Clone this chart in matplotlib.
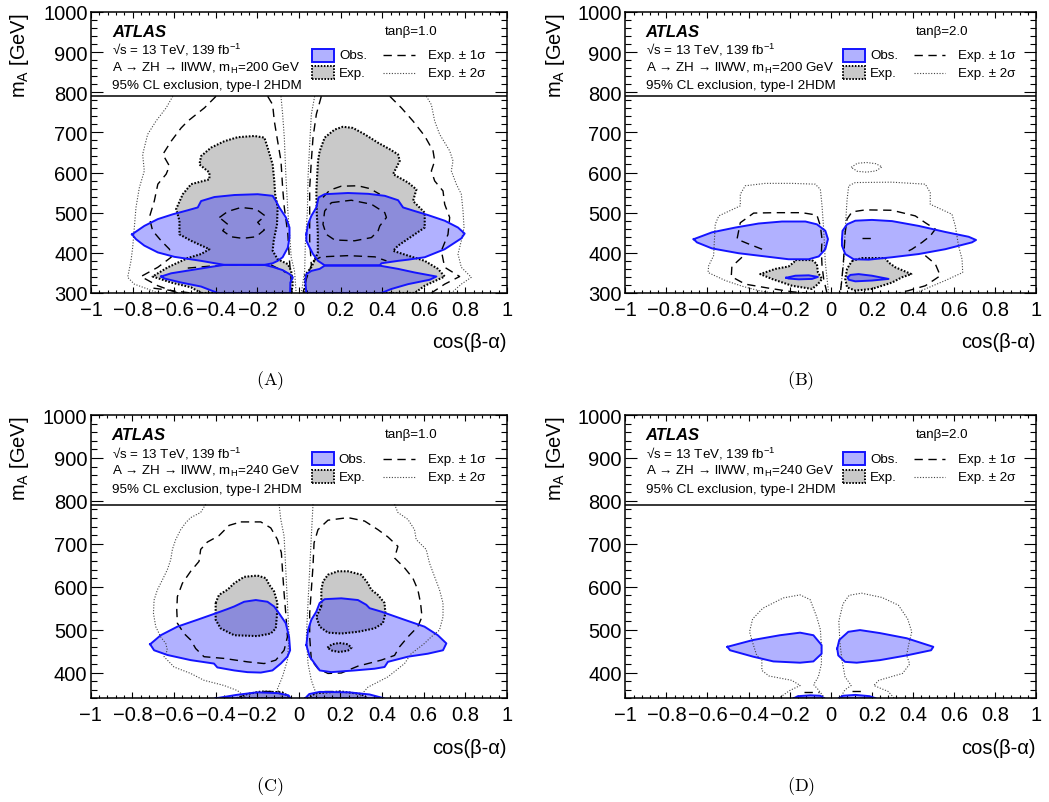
import matplotlib
matplotlib.use("Agg")
import matplotlib.pyplot as plt
from matplotlib.patches import Rectangle
from matplotlib.ticker import MultipleLocator, FuncFormatter

plt.rcParams["font.family"] = ["Liberation Sans", "DejaVu Sans"]
plt.rcParams["mathtext.fontset"] = "custom"
plt.rcParams["mathtext.rm"] = "Liberation Sans"
plt.rcParams["mathtext.it"] = "Liberation Sans:italic"
plt.rcParams["mathtext.bf"] = "Liberation Sans:bold"

# ---------------------------------------------------------------- contours
# every contour is a list of (cos(beta-alpha), m_A [GeV]) points

# (a) m_H = 200 GeV, tanb = 1
A_OBS_L_UP = [(-0.803, 446), (-0.744, 467), (-0.679, 484), (-0.607, 496), (-0.535, 506),
              (-0.487, 513), (-0.471, 529), (-0.407, 539), (-0.311, 544), (-0.199, 546),
              (-0.127, 542), (-0.111, 529), (-0.095, 513), (-0.063, 488), (-0.046, 463),
              (-0.046, 438), (-0.054, 413), (-0.079, 389), (-0.103, 380), (-0.127, 374),
              (-0.167, 370), (-0.359, 370), (-0.471, 380), (-0.599, 390), (-0.679, 401),
              (-0.744, 418), (-0.784, 434)]
A_OBS_L_LOW = [(-0.663, 341), (-0.615, 349), (-0.519, 357), (-0.423, 365), (-0.359, 370),
               (-0.167, 370), (-0.127, 365), (-0.079, 357), (-0.046, 347), (-0.030, 339),
               (-0.042, 326), (-0.043, 300), (-0.391, 300), (-0.471, 316), (-0.567, 326),
               (-0.647, 336)]
A_OBS_R_UP = [(0.035, 446), (0.043, 471), (0.059, 492), (0.083, 513), (0.094, 538),
              (0.123, 546), (0.235, 549), (0.332, 547), (0.412, 542), (0.476, 531),
              (0.500, 513), (0.556, 504), (0.620, 494), (0.700, 480), (0.764, 463),
              (0.796, 448), (0.780, 436), (0.700, 409), (0.604, 389), (0.524, 383),
              (0.476, 380), (0.396, 374), (0.388, 369), (0.123, 369), (0.091, 380),
              (0.067, 397), (0.051, 413), (0.035, 430)]
A_OBS_R_LOW = [(0.035, 300), (0.030, 331), (0.035, 347), (0.059, 355), (0.099, 360),
               (0.123, 368), (0.388, 368), (0.476, 360), (0.556, 351), (0.660, 341),
               (0.628, 333), (0.524, 322), (0.444, 310), (0.396, 300)]
A_EXP_L = [(-0.471, 300), (-0.519, 314), (-0.615, 326), (-0.704, 341), (-0.631, 364),
           (-0.535, 387), (-0.471, 397), (-0.431, 409), (-0.519, 430), (-0.575, 446),
           (-0.575, 480), (-0.591, 509), (-0.559, 546), (-0.519, 571), (-0.431, 583),
           (-0.431, 600), (-0.479, 620), (-0.471, 641), (-0.423, 662), (-0.359, 678),
           (-0.295, 688), (-0.215, 691), (-0.167, 687), (-0.151, 662), (-0.127, 620),
           (-0.119, 579), (-0.115, 546), (-0.103, 513), (-0.106, 471), (-0.122, 430),
           (-0.127, 405), (-0.103, 384), (-0.054, 372), (-0.038, 355), (-0.030, 322),
           (-0.038, 300)]
A_EXP_R = [(0.027, 300), (0.030, 345), (0.060, 365), (0.090, 400), (0.090, 450),
           (0.085, 500), (0.083, 554), (0.091, 629), (0.099, 653), (0.123, 687),
           (0.171, 707), (0.211, 714), (0.259, 711), (0.316, 695), (0.380, 674),
           (0.436, 658), (0.476, 645), (0.484, 629), (0.452, 596), (0.524, 575),
           (0.564, 558), (0.548, 529), (0.604, 500), (0.604, 463), (0.476, 418),
           (0.452, 405), (0.524, 393), (0.604, 380), (0.668, 360), (0.700, 341),
           (0.604, 318), (0.556, 300)]
A_DASH_L_OUT = [(-0.399, 790), (-0.455, 761), (-0.535, 728), (-0.567, 711), (-0.615, 678),
                (-0.655, 645), (-0.623, 616), (-0.639, 596), (-0.679, 571), (-0.696, 529),
                (-0.720, 488), (-0.704, 455), (-0.663, 430), (-0.623, 409), (-0.615, 389),
                (-0.679, 364), (-0.760, 341), (-0.679, 318), (-0.583, 300)]
A_DASH_L_IN = [(-0.151, 790), (-0.127, 769), (-0.119, 728), (-0.103, 678), (-0.087, 629),
               (-0.079, 562), (-0.071, 513), (-0.054, 447), (-0.046, 380), (-0.038, 331),
               (-0.034, 300)]
A_DASH_L_ISL = [(-0.383, 488), (-0.343, 503), (-0.279, 513), (-0.207, 509), (-0.163, 492),
                (-0.199, 476), (-0.167, 457), (-0.207, 440), (-0.271, 436), (-0.327, 440),
                (-0.367, 455), (-0.343, 471), (-0.383, 488)]
A_DASH_L_LOW = [(-0.535, 362), (-0.359, 370), (-0.135, 370), (-0.063, 351)]
A_DASH_L_BOT = [(-0.700, 312), (-0.600, 305), (-0.520, 300)]
A_DASH_R_OUT = [(0.436, 790), (0.492, 761), (0.548, 728), (0.604, 691), (0.644, 654),
                (0.652, 629), (0.636, 604), (0.652, 579), (0.692, 554), (0.700, 521),
                (0.724, 488), (0.716, 446), (0.684, 405), (0.700, 364), (0.772, 341),
                (0.700, 322), (0.636, 300)]
A_DASH_R_IN = [(0.107, 790), (0.083, 745), (0.067, 687), (0.059, 629), (0.051, 562),
               (0.051, 500), (0.051, 430), (0.059, 369), (0.035, 335), (0.019, 300)]
A_DASH_R_TOP = [(0.115, 538), (0.147, 556), (0.203, 566), (0.283, 567), (0.340, 560),
                (0.388, 546)]
A_DASH_R_ISL = [(0.155, 525), (0.251, 531), (0.348, 521), (0.412, 500), (0.420, 488),
                (0.388, 467), (0.380, 455), (0.348, 438), (0.267, 430), (0.171, 432),
                (0.131, 446), (0.115, 471), (0.123, 504), (0.155, 525)]
A_DASH_R_LOW = [(0.067, 380), (0.107, 390), (0.235, 393), (0.364, 390), (0.420, 380)]
A_DOT_L_OUT = [(-0.607, 790), (-0.639, 761), (-0.688, 728), (-0.728, 695), (-0.752, 645),
               (-0.744, 604), (-0.768, 562), (-0.784, 513), (-0.792, 463), (-0.800, 413),
               (-0.808, 380), (-0.824, 339), (-0.792, 322), (-0.728, 310), (-0.679, 300)]
A_DOT_L_IN = [(-0.087, 790), (-0.079, 745), (-0.071, 687), (-0.063, 587), (-0.054, 505),
              (-0.042, 422), (-0.038, 389), (-0.022, 355), (-0.014, 300)]
A_DOT_R_OUT = [(0.612, 790), (0.636, 769), (0.652, 728), (0.676, 695), (0.724, 654),
               (0.740, 629), (0.732, 604), (0.756, 571), (0.780, 546), (0.788, 505),
               (0.793, 463), (0.780, 430), (0.764, 397), (0.780, 364), (0.828, 339),
               (0.780, 322), (0.732, 300)]
A_DOT_R_IN = [(0.075, 790), (0.059, 745), (0.051, 670), (0.043, 587), (0.040, 504),
              (0.030, 422), (0.027, 355), (0.011, 300)]

# (b) m_H = 200 GeV, tanb = 2
B_OBS_L = [(-0.667, 434), (-0.578, 451), (-0.464, 463), (-0.351, 473), (-0.237, 478),
           (-0.123, 478), (-0.067, 471), (-0.026, 455), (-0.013, 434), (-0.026, 409),
           (-0.058, 391), (-0.107, 384), (-0.205, 384), (-0.318, 391), (-0.448, 399),
           (-0.578, 411), (-0.651, 426)]
B_OBS_R = [(0.055, 434), (0.058, 455), (0.080, 471), (0.120, 480), (0.201, 482),
           (0.299, 479), (0.429, 467), (0.558, 452), (0.672, 440), (0.708, 432),
           (0.688, 426), (0.558, 409), (0.429, 397), (0.299, 389), (0.185, 383),
           (0.112, 384), (0.071, 397), (0.055, 418)]
B_OBS_L_SMALL = [(-0.216, 338), (-0.172, 343), (-0.107, 344), (-0.062, 340), (-0.091, 335),
                 (-0.156, 334), (-0.205, 336)]
B_OBS_R_SMALL = [(0.084, 339), (0.096, 345), (0.136, 347), (0.201, 343), (0.282, 335),
                 (0.201, 331), (0.120, 329), (0.088, 333)]
B_EXP_L = [(-0.172, 382), (-0.091, 382), (-0.067, 372), (-0.062, 351), (-0.042, 335),
           (-0.062, 322), (-0.091, 310), (-0.188, 318), (-0.286, 335), (-0.343, 347),
           (-0.269, 360), (-0.205, 366), (-0.180, 376)]
B_EXP_R = [(0.104, 380), (0.153, 387), (0.266, 387), (0.282, 376), (0.315, 364),
           (0.393, 347), (0.347, 339), (0.299, 326), (0.201, 310), (0.120, 306),
           (0.080, 314), (0.071, 335), (0.080, 360)]
B_DASH_L1 = [(-0.334, 409), (-0.399, 422), (-0.456, 434), (-0.440, 475), (-0.375, 499),
             (-0.269, 500), (-0.140, 500), (-0.067, 494), (-0.050, 467), (-0.042, 434),
             (-0.045, 401), (-0.042, 368), (-0.034, 335), (-0.018, 300)]
B_DASH_L2 = [(-0.432, 389), (-0.481, 366), (-0.484, 341), (-0.416, 322), (-0.302, 312),
             (-0.188, 303), (-0.123, 300)]
B_DASH_R1 = [(0.380, 405), (0.396, 409), (0.445, 426), (0.485, 442), (0.510, 459),
             (0.461, 475), (0.412, 492), (0.299, 506), (0.169, 507), (0.104, 502),
             (0.080, 484), (0.071, 451), (0.063, 384), (0.055, 335), (0.047, 300)]
B_DASH_R2 = [(0.461, 393), (0.510, 372), (0.534, 343), (0.461, 318), (0.380, 306),
             (0.331, 300)]
B_DASH_R_MARK = [(0.155, 438), (0.200, 438)]
B_DOT_L = [(-0.010, 300), (-0.026, 376), (-0.034, 459), (-0.042, 517), (-0.050, 558),
           (-0.075, 571), (-0.188, 573), (-0.318, 573), (-0.416, 567), (-0.440, 546),
           (-0.440, 517), (-0.545, 492), (-0.562, 471), (-0.570, 393), (-0.594, 368),
           (-0.597, 351), (-0.513, 331), (-0.432, 317), (-0.351, 306), (-0.286, 300)]
B_DOT_R = [(0.047, 300), (0.063, 376), (0.071, 459), (0.080, 533), (0.088, 567),
           (0.120, 575), (0.299, 576), (0.461, 571), (0.485, 550), (0.485, 521),
           (0.591, 496), (0.607, 467), (0.623, 417), (0.640, 384), (0.643, 351),
           (0.558, 331), (0.461, 310), (0.412, 300)]
B_DOT_R_ISL = [(0.100, 613), (0.130, 623), (0.175, 625), (0.220, 622), (0.250, 614),
               (0.220, 604), (0.175, 601), (0.130, 603), (0.100, 613)]

# (c) m_H = 240 GeV, tanb = 1
C_OBS_L = [(-0.715, 466), (-0.664, 487), (-0.584, 507), (-0.488, 523), (-0.400, 538),
           (-0.343, 548), (-0.311, 554), (-0.263, 565), (-0.207, 569), (-0.151, 565),
           (-0.119, 554), (-0.095, 538), (-0.063, 515), (-0.047, 483), (-0.042, 452),
           (-0.055, 437), (-0.087, 421), (-0.127, 405), (-0.183, 400), (-0.247, 401),
           (-0.311, 405), (-0.392, 412), (-0.408, 421), (-0.520, 429), (-0.632, 441),
           (-0.696, 452)]
C_OBS_R = [(0.036, 464), (0.044, 499), (0.060, 523), (0.084, 542), (0.100, 562),
           (0.124, 571), (0.204, 573), (0.284, 569), (0.324, 558), (0.340, 550),
           (0.396, 542), (0.508, 523), (0.604, 507), (0.668, 487), (0.709, 468),
           (0.693, 452), (0.620, 444), (0.524, 437), (0.428, 425), (0.412, 413),
           (0.364, 409), (0.268, 405), (0.156, 401), (0.100, 405), (0.076, 421),
           (0.052, 437)]
C_OBS_L_BOT = [(-0.400, 340), (-0.300, 348), (-0.200, 354), (-0.100, 352), (-0.050, 347),
               (-0.040, 340)]
C_OBS_R_BOT = [(0.030, 340), (0.050, 350), (0.100, 355), (0.240, 354), (0.340, 349),
               (0.410, 340)]
C_EXP_L = [(-0.400, 562), (-0.384, 581), (-0.343, 593), (-0.311, 608), (-0.263, 623),
           (-0.199, 626), (-0.159, 620), (-0.143, 605), (-0.119, 589), (-0.103, 562),
           (-0.106, 530), (-0.111, 503), (-0.135, 491), (-0.199, 485), (-0.311, 487),
           (-0.376, 503), (-0.400, 523)]
C_EXP_R = [(0.108, 554), (0.108, 593), (0.116, 612), (0.140, 628), (0.188, 636),
           (0.236, 636), (0.300, 628), (0.332, 608), (0.348, 593), (0.380, 581),
           (0.412, 562), (0.416, 538), (0.404, 515), (0.364, 503), (0.284, 495),
           (0.204, 491), (0.140, 493), (0.100, 507), (0.084, 530)]
C_EXP_R_ISL = [(0.137, 458), (0.160, 466), (0.195, 469), (0.235, 466), (0.253, 458),
               (0.235, 451), (0.195, 448), (0.160, 451)]
C_EXP_L_BOT = [(-0.300, 340), (-0.250, 350), (-0.180, 356), (-0.080, 354), (-0.050, 345),
               (-0.045, 340)]
C_EXP_R_BOT = [(0.040, 340), (0.080, 352), (0.200, 356), (0.300, 350), (0.330, 340)]
C_DASH_L = [(-0.279, 751), (-0.183, 751), (-0.135, 737), (-0.103, 710), (-0.084, 679),
            (-0.079, 640), (-0.071, 585), (-0.063, 538), (-0.055, 483), (-0.071, 452),
            (-0.111, 429), (-0.167, 421), (-0.247, 425), (-0.360, 433), (-0.456, 437),
            (-0.496, 456), (-0.520, 476), (-0.552, 491), (-0.584, 515), (-0.587, 546),
            (-0.584, 577), (-0.560, 608), (-0.520, 636), (-0.480, 659), (-0.472, 687),
            (-0.440, 704), (-0.384, 719), (-0.335, 743), (-0.279, 751)]
C_DASH_R = [(0.060, 429), (0.052, 483), (0.052, 538), (0.060, 593), (0.068, 648),
            (0.073, 702), (0.092, 733), (0.140, 755), (0.236, 761), (0.316, 753),
            (0.380, 733), (0.428, 716), (0.476, 694), (0.460, 667), (0.508, 644),
            (0.548, 620), (0.572, 593), (0.585, 562), (0.592, 530), (0.572, 507),
            (0.524, 483), (0.484, 460), (0.460, 440), (0.396, 429), (0.284, 415),
            (0.204, 399), (0.140, 398), (0.092, 409), (0.060, 429)]
C_DASH_L_BOT = [(-0.170, 356), (-0.100, 356)]
C_DASH_R_BOT = [(0.120, 357), (0.200, 357)]
C_DOT_L_OUT = [(-0.448, 792), (-0.472, 773), (-0.520, 761), (-0.544, 749), (-0.568, 733),
               (-0.592, 710), (-0.608, 687), (-0.616, 663), (-0.632, 640), (-0.656, 616),
               (-0.680, 593), (-0.696, 569), (-0.699, 538), (-0.688, 507), (-0.664, 483),
               (-0.640, 468), (-0.632, 452), (-0.648, 437), (-0.600, 413), (-0.520, 398),
               (-0.456, 382), (-0.360, 370), (-0.295, 358), (-0.247, 339)]
C_DOT_L_IN = [(-0.095, 792), (-0.087, 757), (-0.071, 718), (-0.063, 640), (-0.055, 562),
              (-0.047, 483), (-0.055, 429), (-0.079, 390), (-0.103, 362), (-0.079, 339)]
C_DOT_R_OUT = [(0.460, 792), (0.476, 773), (0.524, 757), (0.556, 733), (0.564, 710),
               (0.612, 687), (0.628, 655), (0.652, 624), (0.676, 593), (0.693, 562),
               (0.693, 530), (0.676, 499), (0.636, 483), (0.604, 468), (0.540, 444),
               (0.508, 421), (0.428, 390), (0.332, 366), (0.284, 339)]
C_DOT_R_IN = [(0.068, 792), (0.060, 718), (0.052, 640), (0.044, 562), (0.036, 483),
              (0.044, 421), (0.060, 382), (0.092, 339)]

# (d) m_H = 240 GeV, tanb = 2
D_OBS_L = [(-0.503, 460), (-0.377, 476), (-0.247, 487), (-0.149, 493), (-0.084, 487),
           (-0.044, 464), (-0.044, 444), (-0.084, 426), (-0.149, 423), (-0.279, 426),
           (-0.377, 437), (-0.490, 452)]
D_OBS_R = [(0.032, 456), (0.042, 476), (0.086, 495), (0.143, 499), (0.240, 492),
           (0.370, 480), (0.500, 460), (0.489, 452), (0.370, 440), (0.240, 429),
           (0.127, 423), (0.070, 425), (0.037, 440)]
D_OBS_L_BOT = [(-0.180, 340), (-0.160, 345), (-0.100, 347), (-0.050, 346), (-0.030, 340)]
D_OBS_R_BOT = [(0.040, 340), (0.060, 346), (0.120, 348), (0.190, 345), (0.220, 340)]
D_DASH_L_BOT = [(-0.131, 355), (-0.058, 355)]
D_DASH_R_BOT = [(0.104, 357), (0.169, 357)]
D_DOT_L = [(-0.028, 340), (-0.060, 360), (-0.083, 372), (-0.060, 390), (-0.045, 420),
           (-0.045, 460), (-0.050, 500), (-0.068, 530), (-0.100, 570), (-0.149, 581),
           (-0.230, 574), (-0.330, 550), (-0.380, 525), (-0.395, 495), (-0.380, 470),
           (-0.360, 440), (-0.335, 430), (-0.335, 405), (-0.300, 392), (-0.190, 382),
           (-0.148, 370), (-0.200, 358), (-0.253, 340)]
D_DOT_R = [(0.045, 340), (0.070, 360), (0.100, 370), (0.070, 390), (0.055, 430),
           (0.045, 470), (0.040, 520), (0.060, 560), (0.090, 580), (0.150, 585),
           (0.250, 575), (0.330, 557), (0.375, 525), (0.395, 495), (0.380, 465),
           (0.370, 440), (0.385, 420), (0.350, 398), (0.235, 382), (0.210, 370),
           (0.280, 356), (0.310, 340)]

# ---------------------------------------------------------------- styles
OBS_FILL = (0.07, 0.07, 1.0, 0.33)
OBS_LINE = "#1414ff"
EXP_FILL = "#c9c9c9"
DASHED = (0, (6, 4))
DOTTED = (0, (1, 1.5))
EXP_EDGE = (0, (0.8, 0.8))


def xy(pts):
    return [p[0] for p in pts], [p[1] for p in pts]


def tick_fmt(v, _):
    v = round(v, 2)
    if v == 0:
        return "0"
    return f"{v:g}".replace("-", "\u2212")


def draw_header(ax, mh, tanb):
    t = ax.transAxes
    small = 9.6
    ax.text(0.05, 0.932, "ATLAS", transform=t, fontsize=12, fontweight="bold",
            fontstyle="italic", va="center")
    ax.text(0.05, 0.868, "\u221as = 13 TeV, 139 fb$^{-1}$", transform=t,
            fontsize=small, va="center")
    ax.text(0.05, 0.804, "A \u2192 ZH \u2192 llWW, m$_{\\mathrm{H}}$=%d GeV" % mh,
            transform=t, fontsize=small, va="center")
    ax.text(0.05, 0.740, "95% CL exclusion, type-I 2HDM", transform=t,
            fontsize=small, va="center")
    ax.text(0.707, 0.932, "tan\u03b2=%s" % tanb, transform=t, fontsize=small,
            va="center")

    # legend
    ax.add_patch(Rectangle((0.531, 0.822), 0.053, 0.046, transform=t,
                           facecolor=OBS_FILL, edgecolor=OBS_LINE, lw=1.4, zorder=4))
    ax.add_patch(Rectangle((0.531, 0.760), 0.053, 0.046, transform=t,
                           facecolor=EXP_FILL, edgecolor="black", lw=1.4,
                           ls=EXP_EDGE, zorder=4))
    ax.text(0.596, 0.846, "Obs.", transform=t, fontsize=small, va="center")
    ax.text(0.596, 0.783, "Exp.", transform=t, fontsize=small, va="center")
    ax.plot([0.702, 0.779], [0.846, 0.846], transform=t, color="black", lw=1.0,
            ls=DASHED)
    ax.plot([0.702, 0.779], [0.783, 0.783], transform=t, color="#444444", lw=0.8,
            ls=DOTTED)
    ax.text(0.81, 0.846, "Exp. \u00b1 1\u03c3", transform=t, fontsize=small, va="center")
    ax.text(0.81, 0.783, "Exp. \u00b1 2\u03c3", transform=t, fontsize=small, va="center")


def draw_panel(ax, exp, obs, dashed, dotted, ymin, mh, tanb):
    for pts in exp:
        ax.fill(*xy(pts), color=EXP_FILL, lw=0, zorder=1)
    for pts in obs:
        ax.fill(*xy(pts), color=OBS_FILL, lw=0, zorder=1.1)
    for pts in dotted:
        ax.plot(*xy(pts), color="#444444", lw=0.8, ls=DOTTED, zorder=2)
    for pts in dashed:
        ax.plot(*xy(pts), color="black", lw=1.0, ls=DASHED, zorder=2)
    for pts in exp:
        ax.plot(*xy(pts + pts[:1]), color="black", lw=1.5, ls=EXP_EDGE, zorder=2.1)
    for pts in obs:
        ax.plot(*xy(pts + pts[:1]), color=OBS_LINE, lw=1.4, zorder=2.2)

    ax.axhline(790, color="black", lw=1.1, zorder=3)
    ax.set_xlim(-1, 1)
    ax.set_ylim(ymin, 1000)

    ax.xaxis.set_major_locator(MultipleLocator(0.2))
    ax.xaxis.set_minor_locator(MultipleLocator(0.04))
    ax.yaxis.set_major_locator(MultipleLocator(100))
    ax.yaxis.set_minor_locator(MultipleLocator(20))
    ax.xaxis.set_major_formatter(FuncFormatter(tick_fmt))
    ax.tick_params(which="both", direction="in", top=True, right=True,
                   labelsize=14.5, width=0.8)
    ax.tick_params(axis="x", which="major", length=4.5, pad=5)
    ax.tick_params(axis="x", which="minor", length=2.3)
    ax.tick_params(axis="y", which="major", length=8.6, pad=2.5)
    ax.tick_params(axis="y", which="minor", length=4.3)
    for s in ax.spines.values():
        s.set_linewidth(1.1)

    ax.text(-0.171, 1.0, "m$_{\\mathrm{A}}$ [GeV]", transform=ax.transAxes,
            rotation=90, ha="center", va="top", fontsize=14.5)
    ax.text(1.0, -0.172, "cos(\u03b2-\u03b1)", transform=ax.transAxes,
            ha="right", va="center", fontsize=14.5)
    draw_header(ax, mh, tanb)


fig = plt.figure(figsize=(10.49, 8.03), dpi=100)

ax_a = fig.add_axes([0.0868, 0.6339, 0.3966, 0.3500])
ax_b = fig.add_axes([0.5961, 0.6339, 0.3915, 0.3500])
ax_c = fig.add_axes([0.0866, 0.1291, 0.3966, 0.3528])
ax_d = fig.add_axes([0.5961, 0.1291, 0.3915, 0.3528])

draw_panel(ax_a,
           exp=[A_EXP_L, A_EXP_R],
           obs=[A_OBS_L_UP, A_OBS_L_LOW, A_OBS_R_UP, A_OBS_R_LOW],
           dashed=[A_DASH_L_OUT, A_DASH_L_IN, A_DASH_L_ISL, A_DASH_L_LOW, A_DASH_L_BOT,
                   A_DASH_R_OUT, A_DASH_R_IN, A_DASH_R_TOP, A_DASH_R_ISL, A_DASH_R_LOW],
           dotted=[A_DOT_L_OUT, A_DOT_L_IN, A_DOT_R_OUT, A_DOT_R_IN],
           ymin=300, mh=200, tanb="1.0")
draw_panel(ax_b,
           exp=[B_EXP_L, B_EXP_R],
           obs=[B_OBS_L, B_OBS_R, B_OBS_L_SMALL, B_OBS_R_SMALL],
           dashed=[B_DASH_L1, B_DASH_L2, B_DASH_R1, B_DASH_R2, B_DASH_R_MARK],
           dotted=[B_DOT_L, B_DOT_R, B_DOT_R_ISL],
           ymin=300, mh=200, tanb="2.0")
draw_panel(ax_c,
           exp=[C_EXP_L, C_EXP_R, C_EXP_R_ISL, C_EXP_L_BOT, C_EXP_R_BOT],
           obs=[C_OBS_L, C_OBS_R, C_OBS_L_BOT, C_OBS_R_BOT],
           dashed=[C_DASH_L, C_DASH_R, C_DASH_L_BOT, C_DASH_R_BOT],
           dotted=[C_DOT_L_OUT, C_DOT_L_IN, C_DOT_R_OUT, C_DOT_R_IN],
           ymin=340, mh=240, tanb="1.0")
draw_panel(ax_d,
           exp=[],
           obs=[D_OBS_L, D_OBS_R, D_OBS_L_BOT, D_OBS_R_BOT],
           dashed=[D_DASH_L_BOT, D_DASH_R_BOT],
           dotted=[D_DOT_L, D_DOT_R],
           ymin=340, mh=240, tanb="2.0")

# sub-figure captions
for x, y, label in [(0.257, 0.5255, "A"), (0.7636, 0.5255, "B"),
                    (0.257, 0.020, "C"), (0.7636, 0.020, "D")]:
    fig.text(x, y, "$\\mathrm{(%s)}$" % label, math_fontfamily="cm",
             ha="center", va="center", fontsize=13)

fig.savefig("out.png", dpi=100)
